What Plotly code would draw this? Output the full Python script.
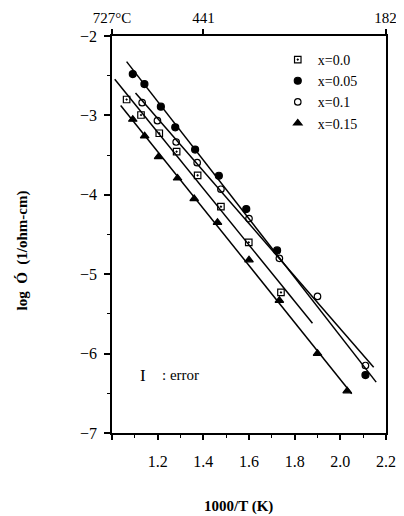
import numpy as np
import plotly.graph_objects as go

# ---- data ----
x00 = [1.064, 1.127, 1.207, 1.283, 1.375, 1.477, 1.599, 1.740]
y00 = [-2.80, -2.995, -3.225, -3.457, -3.755, -4.15, -4.60, -5.23]
fit00 = [1.012, 1.878]

x05 = [1.091, 1.142, 1.214, 1.277, 1.364, 1.468, 1.588, 1.723, 2.110]
y05 = [-2.48, -2.605, -2.89, -3.15, -3.43, -3.76, -4.18, -4.70, -6.27]
fit05 = [1.064, 2.157]

x10 = [1.132, 1.199, 1.281, 1.373, 1.477, 1.600, 1.733, 1.900, 2.110]
y10 = [-2.84, -3.067, -3.335, -3.595, -3.93, -4.30, -4.80, -5.28, -6.15]
fit10 = [1.103, 2.146]

x15 = [1.091, 1.143, 1.204, 1.287, 1.360, 1.462, 1.600, 1.733, 1.900, 2.030]
y15 = [-3.05, -3.26, -3.52, -3.79, -4.05, -4.35, -4.82, -5.33, -6.00, -6.47]
fit15 = [1.038, 2.050]

series_names = ["x=0.0", "x=0.05", "x=0.1", "x=0.15"]
bottom_ticks = [1.0, 1.2, 1.4, 1.6, 1.8, 2.0, 2.2]
bottom_labels = ["", "1.2", "1.4", "1.6", "1.8", "2.0", "2.2"]
top_temps_c = [727, 441, 182]
top_labels = ["727°C", "441", "182"]
y_ticks = [-7, -6, -5, -4, -3, -2]

FONT = "Liberation Serif"
series = [
    (x00, y00, fit00, "square-open-dot", 6.5),
    (x05, y05, fit05, "circle", 7),
    (x10, y10, fit10, "circle-open", 6.5),
    (x15, y15, fit15, "triangle-up", 7.5),
]

fig = go.Figure()
for (xs, ys, fr, sym, sz), name in zip(series, series_names):
    p = np.polyfit(xs, ys, 1)
    fx = np.array(fr)
    fig.add_trace(go.Scatter(x=fx, y=np.polyval(p, fx), mode="lines",
                             line=dict(color="black", width=1.5),
                             showlegend=False, hoverinfo="skip"))
    fig.add_trace(go.Scatter(x=xs, y=ys, mode="markers", name=name,
                             marker=dict(symbol=sym, size=sz, color="black",
                                         line=dict(color="black", width=1.2))))

top_pos = [1000.0 / (t + 273) for t in top_temps_c]
fig.add_trace(go.Scatter(x=top_pos, y=[-2, -2, -2], xaxis="x2", mode="markers",
                         marker=dict(opacity=0), showlegend=False, hoverinfo="skip"))

fig.update_layout(
    width=396, height=508,
    margin=dict(l=104, r=18, t=28, b=83, autoexpand=False),
    plot_bgcolor="white", paper_bgcolor="white",
    font=dict(family=FONT, size=15, color="black"),
    showlegend=True,
    legend=dict(x=0.605, y=0.98, xanchor="left", yanchor="top",
                bgcolor="rgba(0,0,0,0)", font=dict(family=FONT, size=14),
                tracegroupgap=0, itemsizing="trace"),
    xaxis=dict(range=[1.0, 2.2], tickvals=bottom_ticks, ticktext=bottom_labels,
               ticks="outside", ticklen=5, tickwidth=1.5, tickcolor="black",
               showline=True, linecolor="black", linewidth=1.5, mirror=False,
               showgrid=False, zeroline=False, automargin=False,
               ticklabelstandoff=8,
               minor=dict(dtick=0.1, tick0=1.0, ticks="outside", ticklen=3,
                          tickcolor="black", tickwidth=1.2),
               tickfont=dict(family=FONT, size=16)),
    xaxis2=dict(range=[1.0, 2.2], overlaying="x", side="top", anchor="y",
                tickvals=top_pos, ticktext=top_labels, ticks="outside",
                ticklen=5, tickwidth=1.5, tickcolor="black",
                showline=True, linecolor="black", linewidth=1.5,
                showgrid=False, zeroline=False, automargin=False,
                ticklabelstandoff=0,
                tickfont=dict(family=FONT, size=15)),
    yaxis=dict(range=[-7, -2], tickvals=y_ticks, ticks="outside", ticklen=6,
               tickwidth=1.5, tickcolor="black", showline=True,
               linecolor="black", linewidth=1.5, mirror=True,
               showgrid=False, zeroline=False, automargin=False,
               ticklabelstandoff=4,
               minor=dict(dtick=0.5, tick0=-7, ticks="outside", ticklen=3,
                          tickcolor="black", tickwidth=1.2),
               tickfont=dict(family=FONT, size=16)),
)

fig.add_annotation(text="<b>1000/T (K)</b>", xref="paper", yref="paper",
                   x=0.46, y=-0.186, xanchor="center", yanchor="middle",
                   showarrow=False, font=dict(family=FONT, size=15))
fig.add_annotation(text="<b>log  Ó  (1/ohm-cm)</b>", xref="paper", yref="paper",
                   x=-0.328, y=0.46, xanchor="center", yanchor="middle",
                   textangle=-90, showarrow=False,
                   font=dict(family=FONT, size=15))
fig.add_annotation(text="I", xref="x", yref="y", x=1.135, y=-6.27,
                   xanchor="center", yanchor="middle", showarrow=False,
                   font=dict(family=FONT, size=17))
fig.add_annotation(text=": error", xref="x", yref="y", x=1.21, y=-6.27,
                   xanchor="left", yanchor="middle", showarrow=False,
                   font=dict(family=FONT, size=15))

fig.write_html("out.html")
